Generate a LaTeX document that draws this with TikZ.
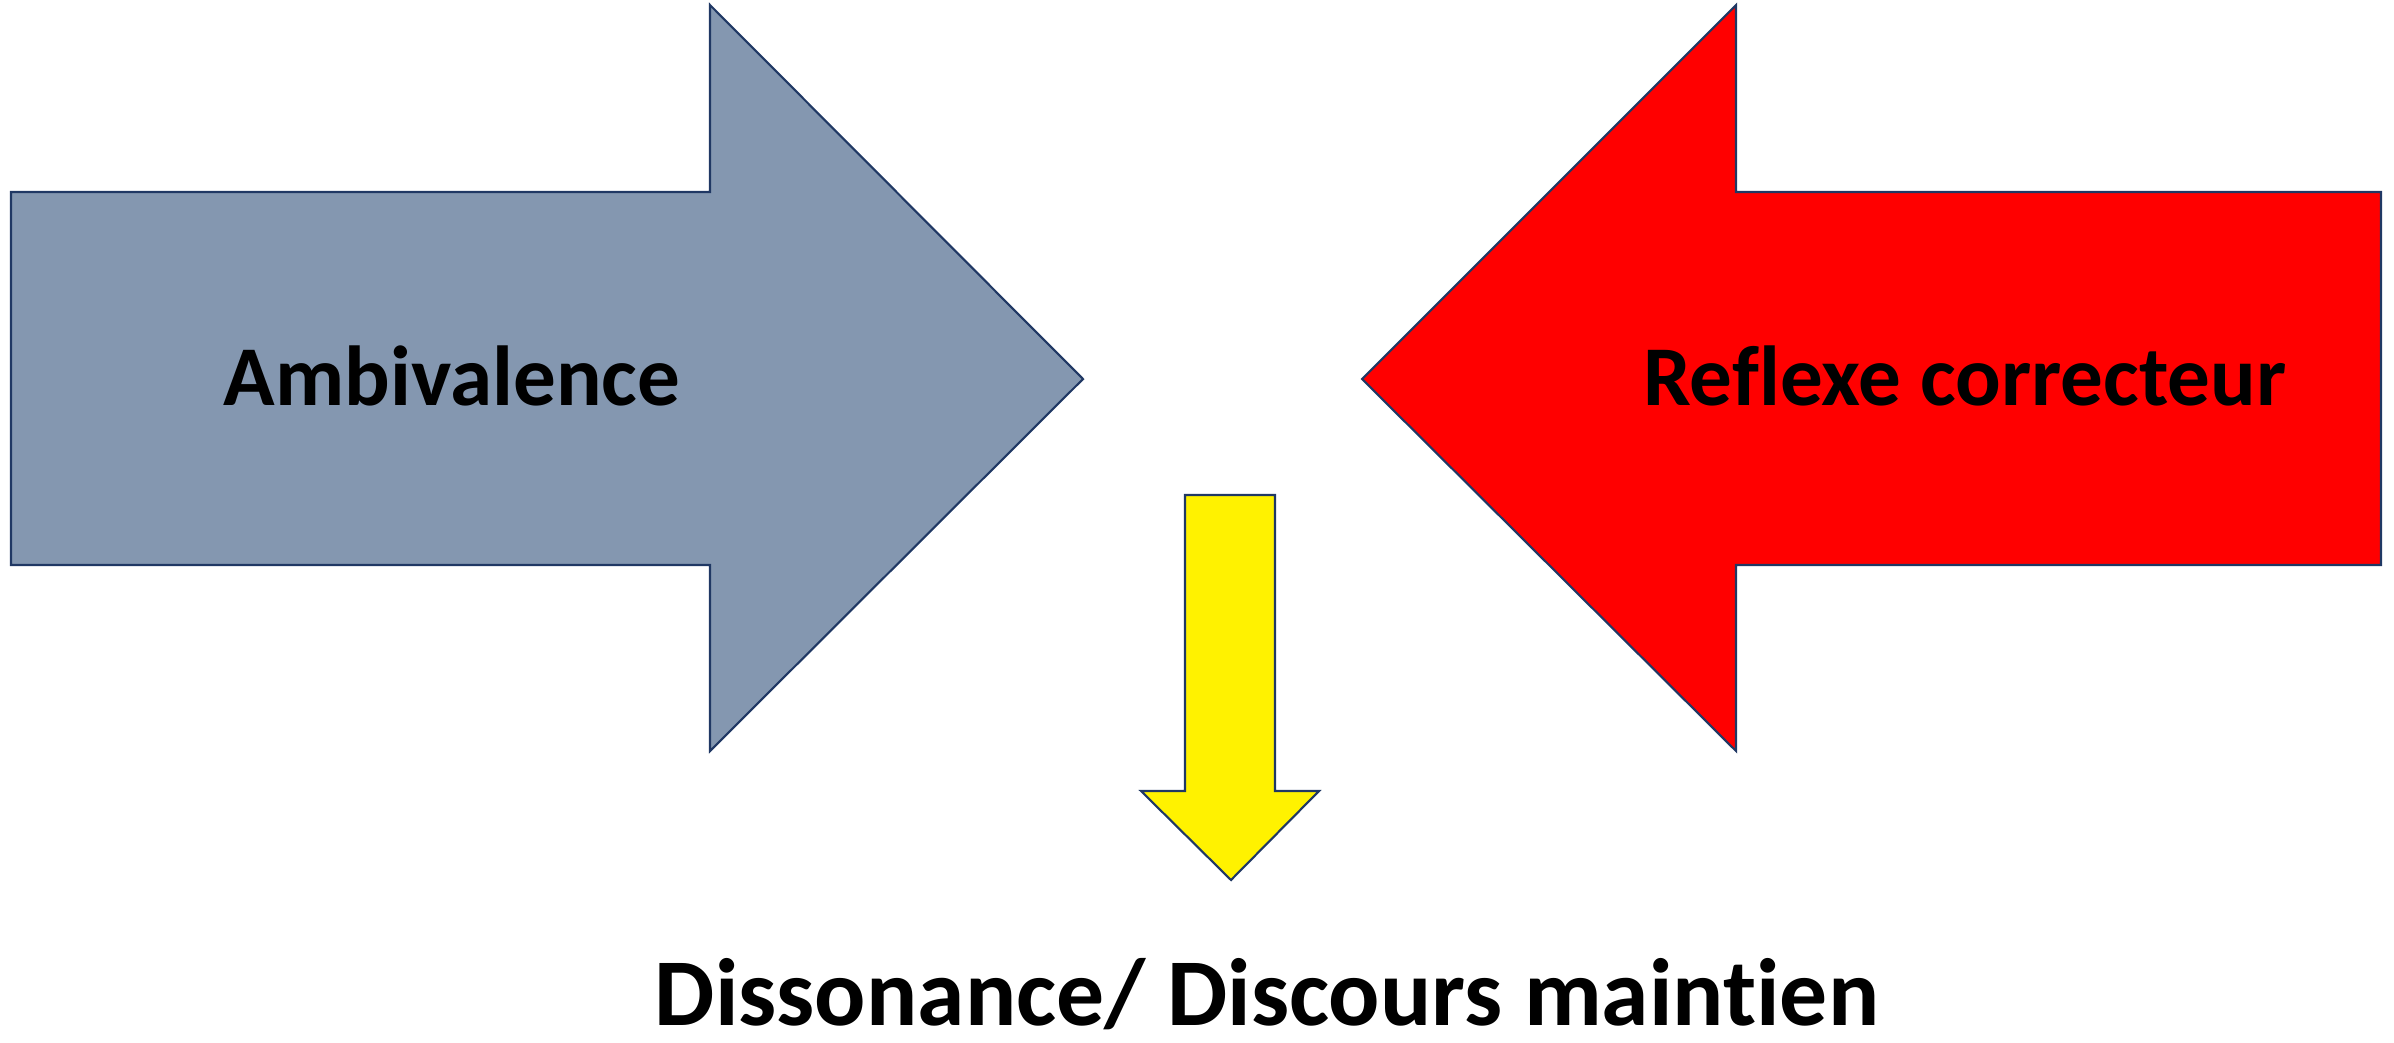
\documentclass[tikz,border=0pt]{standalone}
\usepackage{fontspec}
\setmainfont[Ligatures=NoCommon]{Carlito}
\usepackage{tikz}
\usetikzlibrary{positioning}
\definecolor{Slate}{HTML}{8497B0}
\definecolor{Navy}{HTML}{203864}
\tikzset{shaft/.style={draw=Navy,line width=0.6pt,line join=miter},
  lbl/.style={anchor=base,font=\bfseries\fontsize{24.2}{28}\selectfont,inner sep=0pt}}

\begin{document}
\begin{tikzpicture}[x=0.01cm,y=-0.01cm]
  \useasboundingbox (0,0) rectangle (2394,1042);
  % left arrow
  \draw [shaft,fill=Slate] (11,192) -- (710,192) -- (710,5) -- (1083,379)
    -- (710,751) -- (710,565) -- (11,565) -- cycle;
  % right arrow
  \draw [shaft,fill=red] (2381,192) -- (1736,192) -- (1736,5) -- (1362,379)
    -- (1736,751) -- (1736,565) -- (2381,565) -- cycle;
  % down arrow
  \draw [shaft,fill=yellow] (1185,495) -- (1275,495) -- (1275,791) -- (1319,791)
    -- (1231,880) -- (1141,791) -- (1185,791) -- cycle;
  \node [lbl] (amb) at (452,405) {Ambivalence};
  \node [lbl] (refl) at (1965,405) {Reflexe correcteur};
  \node [lbl,font=\bfseries\fontsize{27.2}{31}\selectfont] (diss) at (1267,1025) {Dissonance/ Discours maintien};
\end{tikzpicture}
\end{document}
